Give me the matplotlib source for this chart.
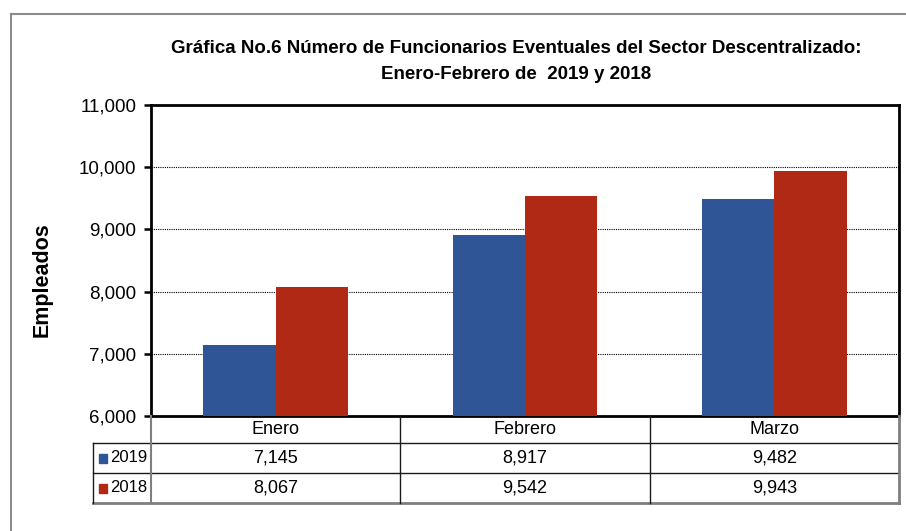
import matplotlib
matplotlib.use("Agg")
import matplotlib.pyplot as plt
from matplotlib.lines import Line2D
from matplotlib.patches import Rectangle

# Data
months = ["Enero", "Febrero", "Marzo"]
years = ["2019", "2018"]
values_2019 = [7145, 8917, 9482]
values_2018 = [8067, 9542, 9943]
y_ticks = [6000, 7000, 8000, 9000, 10000, 11000]

BLUE = "#2F5597"
RED = "#B02914"

plt.rcParams["font.family"] = ["Liberation Sans", "DejaVu Sans"]

W, H = 906, 531
fig = plt.figure(figsize=(W / 100, H / 100), dpi=100)


def fx(px):
    return px / W


def fy(py):
    return 1 - py / H


# outer frame
fig.add_artist(Line2D([fx(11), 1], [fy(14), fy(14)], color="#8c8c8c", lw=1.5))
fig.add_artist(Line2D([fx(11), fx(11)], [fy(14), 0], color="#8c8c8c", lw=1.5))

ax = fig.add_axes([fx(151), fy(416), fx(899 - 151), (416 - 105) / H])
x = list(range(len(months)))
bw = 0.29
ax.bar([i - bw / 2 for i in x], values_2019, width=bw, color=BLUE, zorder=3)
ax.bar([i + bw / 2 for i in x], values_2018, width=bw, color=RED, zorder=3)

ax.set_xlim(-0.5, 2.5)
ax.set_ylim(y_ticks[0], y_ticks[-1])
ax.set_yticks(y_ticks)
ax.set_yticklabels([f"{v:,}" for v in y_ticks], fontsize=13.5)
ax.set_xticks([])
ax.tick_params(axis="y", direction="out", length=5, width=1.8, pad=5.5)
for s in ax.spines.values():
    s.set_linewidth(2)
    s.set_color("black")
for v in y_ticks[1:-1]:
    ax.axhline(v, color="black", lw=0.8, ls=(0, (1, 1)), zorder=1)

ax.set_title(
    "Gráfica No.6 Número de Funcionarios Eventuales del Sector Descentralizado:\n"
    "Enero-Febrero de  2019 y 2018",
    fontsize=13.5, fontweight="bold", pad=19, linespacing=1.7,
    x=(516 - 151) / 748,
)
fig.text(fx(42), fy(280), "Empleados", rotation=90, ha="center", va="center",
         fontsize=15.5, fontweight="bold")

# data table below the axis
tax = fig.add_axes([fx(151), fy(503), fx(748), 87 / H])
tax.set_xlim(-0.5, 2.5)
tax.set_ylim(87, 0)
tax.axis("off")
rows = [0, 27, 57, 87]
leg_left = -0.5 - 58 / 249.33
dark = "#1a1a1a"
grey = "#7f7f7f"
lines = [
    ([leg_left, 2.5], [rows[1]] * 2, dark, 1.0),
    ([leg_left, 2.5], [rows[2]] * 2, dark, 1.0),
    ([leg_left, 2.5], [rows[3]] * 2, grey, 2.0),
    ([leg_left, leg_left], [rows[1], rows[3]], dark, 1.0),
    ([-0.5, -0.5], [rows[0], rows[3]], grey, 1.5),
    ([2.5, 2.5], [rows[0], rows[3]], grey, 2.0),
]
for i in x[:-1]:
    lines.append(([i + 0.5, i + 0.5], [rows[0], rows[3]], dark, 1.0))
for xs, ys, c, lw in lines:
    tax.add_artist(Line2D(xs, ys, color=c, lw=lw, clip_on=False))

for i, m in enumerate(months):
    tax.text(i, (rows[0] + rows[1]) / 2, m, ha="center", va="center", fontsize=13)
for r, (yr, vals, col) in enumerate(zip(years, [values_2019, values_2018], [BLUE, RED])):
    yc = (rows[r + 1] + rows[r + 2]) / 2
    tax.add_patch(Rectangle((leg_left + 6 / 249.33, yc - 4.5), 8 / 249.33, 9,
                            color=col, clip_on=False))
    tax.text(leg_left + 17 / 249.33, yc, yr, ha="left", va="center", fontsize=12)
    for i, v in enumerate(vals):
        tax.text(i, yc, f"{v:,}", ha="center", va="center", fontsize=13)

fig.savefig("out.png", dpi=100)
